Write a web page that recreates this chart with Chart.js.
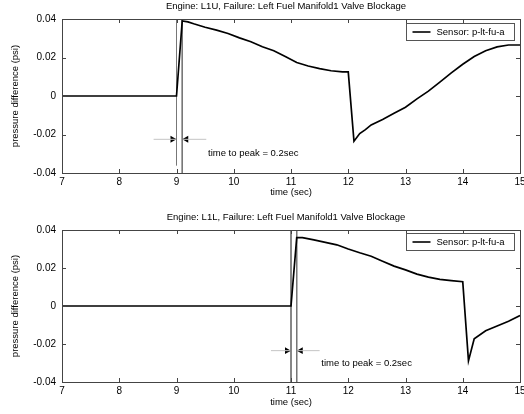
<!DOCTYPE html>
<html>
<head>
<meta charset="utf-8">
<script src="https://cdn.jsdelivr.net/npm/chart.js@4.4.1/dist/chart.umd.min.js"></script>
<style>
  body { margin: 0; background: #fff; }
  canvas { display: block; }
</style>
</head>
<body>
<canvas id="topChart" width="524" height="207"></canvas>
<canvas id="bottomChart" width="524" height="207"></canvas>
<script>
// engine L1U
const timeTop = [7, 9, 9.1, 9.2, 9.3, 9.5, 9.7, 9.9, 10.1, 10.3, 10.5, 10.7, 10.9, 11.1, 11.3, 11.5, 11.7, 11.9, 12,
                 12.1, 12.2, 12.3, 12.4, 12.6, 12.8, 13, 13.2, 13.4, 13.6, 13.8, 14, 14.2, 14.4, 14.6, 14.8, 15];
const pressTop = [0, 0, 0.039, 0.0385, 0.0375, 0.0357, 0.0342, 0.0325, 0.0302, 0.0282, 0.0256, 0.0235, 0.0205, 0.0174, 0.0156, 0.0142, 0.0131, 0.0125, 0.0125,
                  -0.0235, -0.0195, -0.0175, -0.0150, -0.0122, -0.0090, -0.0058, -0.0015, 0.0025, 0.0072, 0.0120, 0.0165, 0.0205, 0.0235, 0.0255, 0.0265, 0.0265];

// engine L1L
const timeBottom = [7, 11, 11.1, 11.2, 11.4, 11.6, 11.8, 12, 12.2, 12.4, 12.6, 12.8, 13, 13.2, 13.4, 13.6, 13.8, 14,
                    14.1, 14.2, 14.4, 14.6, 14.8, 15];
const pressBottom = [0, 0, 0.036, 0.036, 0.0348, 0.0335, 0.0322, 0.0300, 0.0280, 0.0262, 0.0236, 0.0210, 0.0190, 0.0168, 0.0152, 0.0140, 0.0134, 0.0128,
                     -0.0289, -0.0173, -0.0130, -0.0105, -0.0080, -0.0050];

// failure onset and peak time, arrow row and note
const peakTop = [9, 9.1];
const peakBottom = [11, 11.1];
const markerEndTop = [-0.036, -0.04];
const markerEndBottom = [-0.04, -0.04];
const arrowSpanTop = [8.6, 9.52];
const arrowSpanBottom = [10.65, 11.5];
const arrowLevel = [-0.0225, -0.0235];
const noteText = 'time to peak = 0.2sec';
const noteTop = { x: 9.55, y: -0.0298 };
const noteBottom = { x: 11.53, y: -0.030 };

const xTicks = [7, 8, 9, 10, 11, 12, 13, 14, 15];
const yTicks = [-0.04, -0.02, 0, 0.02, 0.04];

const seriesLabel = 'Sensor: p-lt-fu-a';
const titles = ['Engine: L1U, Failure: Left Fuel Manifold1 Valve Blockage',
                'Engine: L1L, Failure: Left Fuel Manifold1 Valve Blockage'];

Chart.defaults.font.family = '"Liberation Sans", Arial, sans-serif';
Chart.defaults.color = '#000';

const FONT = '9.5px "Liberation Sans", Arial, sans-serif';

// frame, inward ticks, title, legend box and note
const matlabAxes = {
    id: 'matlabAxes',
    afterDraw(chart, args, opts) {
        const { ctx, chartArea: a, scales } = chart;
        ctx.save();
        ctx.strokeStyle = '#444';
        ctx.lineWidth = 1;
        ctx.beginPath();
        xTicks.forEach(v => {
            const px = Math.round(scales.x.getPixelForValue(v)) + 0.5;
            ctx.moveTo(px, a.bottom); ctx.lineTo(px, a.bottom - 4);
            ctx.moveTo(px, a.top); ctx.lineTo(px, a.top + 4);
        });
        yTicks.forEach(v => {
            const py = Math.round(scales.y.getPixelForValue(v)) + 0.5;
            ctx.moveTo(a.left, py); ctx.lineTo(a.left + 4, py);
            ctx.moveTo(a.right, py); ctx.lineTo(a.right - 4, py);
        });
        ctx.stroke();
        ctx.strokeRect(Math.round(a.left) + 0.5, Math.round(a.top) + 0.5,
                       Math.round(a.right - a.left), Math.round(a.bottom - a.top));

        // title
        ctx.fillStyle = '#000';
        ctx.font = FONT;
        ctx.textAlign = 'center';
        ctx.textBaseline = 'middle';
        ctx.fillText(opts.title, (a.left + a.right) / 2 - 5, opts.titleY);

        // note
        ctx.textAlign = 'left';
        ctx.fillText(noteText, scales.x.getPixelForValue(opts.note.x), scales.y.getPixelForValue(opts.note.y));

        // legend
        const bw = 108, bh = 17;
        const bx = Math.round(a.right) - 6 - bw + 0.5;
        const by = Math.round(a.top) + opts.legendTop + 0.5;
        ctx.fillStyle = '#fff';
        ctx.fillRect(bx, by, bw, bh);
        ctx.strokeStyle = '#555';
        ctx.strokeRect(bx, by, bw, bh);
        ctx.strokeStyle = '#000';
        ctx.lineWidth = 1.6;
        ctx.beginPath();
        ctx.moveTo(bx + 6, by + bh / 2);
        ctx.lineTo(bx + 24, by + bh / 2);
        ctx.stroke();
        ctx.fillStyle = '#000';
        ctx.fillText(chart.data.datasets[0].label, bx + 30, by + bh / 2 + 0.5);
        ctx.restore();
    }
};

function makeChart(id, time, press, peak, markerEnd, arrowSpan, level, opts) {
    const pts = time.map((t, i) => ({ x: t, y: press[i] }));
    const datasets = [{
        label: seriesLabel,
        data: pts,
        borderColor: '#000',
        borderWidth: 1.7,
        pointRadius: 0,
        tension: 0
    }];
    peak.forEach((p, i) => {
        datasets.push({
            label: 'marker',
            data: [{ x: p, y: 0.04 }, { x: p, y: markerEnd[i] }],
            borderColor: '#777',
            borderWidth: 1,
            pointRadius: 0
        });
    });
    // arrow shafts
    datasets.push({
        label: 'shaft',
        data: [{ x: arrowSpan[0], y: level }, { x: peak[0], y: level }],
        borderColor: '#c4c4c4', borderWidth: 1, pointRadius: 0
    });
    datasets.push({
        label: 'shaft',
        data: [{ x: peak[1], y: level }, { x: arrowSpan[1], y: level }],
        borderColor: '#c4c4c4', borderWidth: 1, pointRadius: 0
    });
    // arrow heads
    datasets.push({
        label: 'head',
        data: [{ x: peak[0] - 0.07, y: level }],
        showLine: false, pointStyle: 'triangle', pointRotation: 90, pointRadius: 4,
        backgroundColor: '#000', borderColor: '#000', borderWidth: 0
    });
    datasets.push({
        label: 'head',
        data: [{ x: peak[1] + 0.07, y: level }],
        showLine: false, pointStyle: 'triangle', pointRotation: -90, pointRadius: 4,
        backgroundColor: '#000', borderColor: '#000', borderWidth: 0
    });

    return new Chart(document.getElementById(id), {
        type: 'line',
        data: { datasets },
        options: {
            responsive: false,
            animation: false,
            layout: { padding: { top: opts.top, right: 2, left: 0, bottom: 0 } },
            plugins: {
                legend: { display: false },
                tooltip: { enabled: false },
                matlabAxes: opts
            },
            scales: {
                x: {
                    type: 'linear',
                    min: 7, max: 15,
                    afterBuildTicks: s => { s.ticks = xTicks.map(v => ({ value: v })); },
                    ticks: { font: { size: 10 }, padding: 3, maxRotation: 0, autoSkip: false },
                    grid: { display: false, drawTicks: false },
                    border: { display: false },
                    title: { display: true, text: 'time (sec)', font: { size: 9.5 }, padding: { top: 0, bottom: opts.xTitlePad } },
                    afterFit: s => { s.height = opts.xHeight; s.paddingLeft = 0; s.paddingRight = 0; }
                },
                y: {
                    min: -0.04, max: 0.04,
                    afterBuildTicks: s => { s.ticks = yTicks.map(v => ({ value: v })); },
                    ticks: {
                        font: { size: 10 }, padding: 6,
                        callback: v => Math.abs(v) < 1e-9 ? '0' : v.toFixed(2)
                    },
                    grid: { display: false, drawTicks: false },
                    border: { display: false },
                    title: { display: true, text: 'pressure difference (psi)', font: { size: 9.5 }, padding: { top: 10, bottom: 0 } },
                    afterFit: s => { s.width = 62; s.paddingTop = 0; s.paddingBottom = 0; }
                }
            }
        },
        plugins: [matlabAxes]
    });
}

makeChart('topChart', timeTop, pressTop, peakTop, markerEndTop, arrowSpanTop, arrowLevel[0], {
    top: 19, xHeight: 34, xTitlePad: 9, title: titles[0], titleY: 6.5, legendTop: 4, note: noteTop
});
makeChart('bottomChart', timeBottom, pressBottom, peakBottom, markerEndBottom, arrowSpanBottom, arrowLevel[1], {
    top: 23, xHeight: 32, xTitlePad: 6, title: titles[1], titleY: 10, legendTop: 3, note: noteBottom
});
</script>
</body>
</html>
